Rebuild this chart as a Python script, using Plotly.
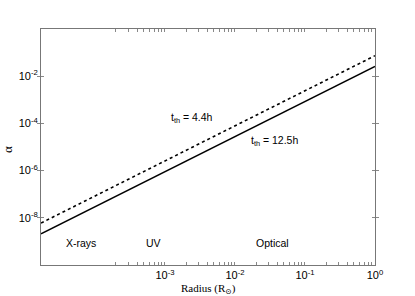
import plotly.graph_objects as go

# Data
radius = [1.7e-5, 1.0]
alpha_12h = [2.1e-9, 0.026]   # t_th = 12.5h (solid)
alpha_4h = [6.0e-9, 0.074]    # t_th = 4.4h (dotted)

x_minor = [2e-4, 3e-4, 4e-4, 5e-4, 6e-4, 7e-4, 8e-4, 9e-4,
           2e-3, 3e-3, 4e-3, 5e-3, 6e-3, 7e-3, 8e-3, 9e-3,
           2e-2, 3e-2, 4e-2, 5e-2, 6e-2, 7e-2, 8e-2, 9e-2,
           2e-1, 3e-1, 4e-1, 5e-1, 6e-1, 7e-1, 8e-1, 9e-1]
x_tickvals = [1e-3, 1e-2, 1e-1, 1.0]
x_ticktext = ["10<sup>-3</sup>", "10<sup>-2</sup>", "10<sup>-1</sup>", "10<sup>0</sup>"]

y_tickvals = [1e-8, 1e-6, 1e-4, 1e-2]
y_ticktext = ["10<sup>-8</sup>", "10<sup>-6</sup>", "10<sup>-4</sup>", "10<sup>-2</sup>"]

fig = go.Figure()
fig.add_trace(go.Scatter(x=radius, y=alpha_4h, mode="lines",
                         line=dict(color="black", width=1.6, dash="dot"), showlegend=False))
fig.add_trace(go.Scatter(x=radius, y=alpha_12h, mode="lines",
                         line=dict(color="black", width=1.4), showlegend=False))
# invisible trace to carry the minor-tick axis
fig.add_trace(go.Scatter(x=radius, y=alpha_12h, xaxis="x2", mode="lines",
                         line=dict(color="rgba(0,0,0,0)", width=0), showlegend=False,
                         hoverinfo="skip"))

sans = dict(family="Liberation Sans, Arial, sans-serif", size=11, color="black")
serif = dict(family="Liberation Serif, DejaVu Serif, serif", size=11, color="black")

common = dict(ticks="inside", ticklen=3, tickcolor="#888", tickwidth=1,
              showgrid=False, zeroline=False)
fig.update_layout(
    xaxis=dict(type="log", range=[-4.77, 0], tickvals=x_tickvals, ticktext=x_ticktext,
               showline=True, linecolor="#777", linewidth=1, mirror="allticks",
               tickfont=sans, **common),
    xaxis2=dict(type="log", range=[-4.77, 0], tickvals=x_minor, overlaying="x",
                anchor="y", side="bottom", showticklabels=False, showline=False,
                mirror="allticks", **common),
    yaxis=dict(type="log", range=[-10, 0], tickvals=y_tickvals, ticktext=y_ticktext,
               showline=True, linecolor="#777", linewidth=1, mirror="allticks",
               tickfont=sans, **common),
)

anns = [
    dict(x=-2.61, y=-3.78, text="t<sub>th</sub> = 4.4h"),
    dict(x=-1.43, y=-4.75, text="t<sub>th</sub> = 12.5h"),
    dict(x=-4.2, y=-9.05, text="X-rays"),
    dict(x=-3.17, y=-9.05, text="UV"),
    dict(x=-1.46, y=-9.05, text="Optical"),
]
for a in anns:
    fig.add_annotation(xref="x", yref="y", showarrow=False,
                       font=dict(family=sans["family"], size=10.5, color="black"), **a)

fig.add_annotation(xref="paper", yref="paper", x=0.5, y=-0.1, text="Radius (R<sub>⊙</sub>)",
                   showarrow=False, font=serif, xanchor="center", yanchor="middle")
fig.add_annotation(xref="paper", yref="paper", x=-0.1, y=0.49, text="α",
                   showarrow=False, font=dict(serif, size=13), textangle=-90,
                   xanchor="center", yanchor="middle")

fig.update_layout(width=415, height=296, margin=dict(l=41, r=40, t=29, b=31),
                  paper_bgcolor="white", plot_bgcolor="white")
fig.write_html("out.html", config={"displayModeBar": False},
               post_script="document.body.style.margin='0';document.body.style.padding='0';")
